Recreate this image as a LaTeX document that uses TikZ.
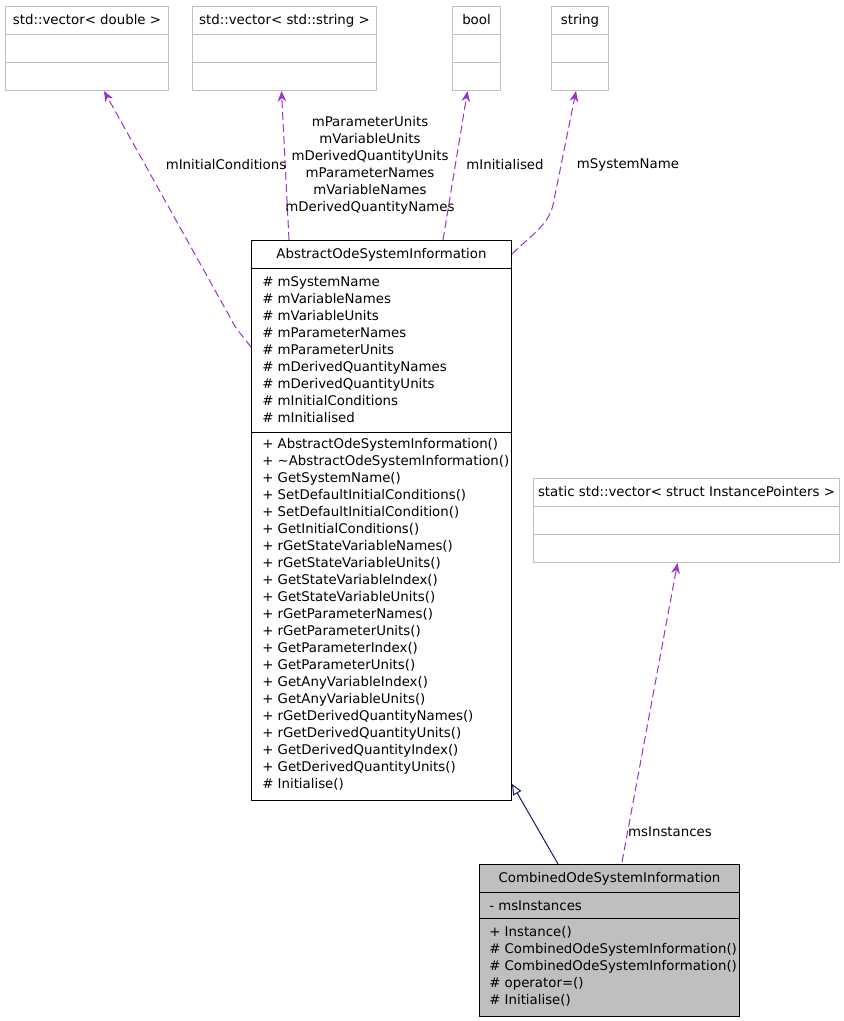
\documentclass[tikz,border=0pt]{standalone}
\usepackage{fontspec}
\setmainfont{DejaVu Sans}
\usetikzlibrary{arrows.meta,calc}
\definecolor{umlpurple}{HTML}{9A32CD}
\definecolor{umlgray}{HTML}{BFBFBF}
\definecolor{umlnavy}{HTML}{191970}
\tikzset{
  every picture/.style={font=\fontsize{10}{12.75}\selectfont, line join=round, >=Stealth},
  classbox/.style={draw=black, line width=0.75pt, rectangle, anchor=north west, inner sep=0pt},
  extbox/.style={draw=umlgray, line width=0.75pt, rectangle, anchor=north west, inner sep=0pt, minimum height=63pt},
  title/.style={inner sep=0pt, text height=7.5pt, text depth=2pt},
  member/.style={anchor=west, inner sep=0pt, text height=7.5pt, text depth=2pt},
  elabel/.style={inner sep=0pt, align=center},
  uses/.style={draw=umlpurple, line width=0.75pt, dash pattern=on 6pt off 3pt,
    -{Stealth[length=8pt, width=6.5pt]}},
  inherit/.style={draw=umlnavy, line width=0.75pt,
    -{Triangle[open, length=8pt, width=7pt, fill=white]}},
}

\begin{document}
\begin{tikzpicture}[x=0.75pt,y=-0.75pt]
\useasboundingbox (0,0) rectangle (843,1021);

% used classes along the top
\foreach \n/\x/\w/\txt in {dbl/5/163/{std::vector< double >}, vstr/192/184/{std::vector< std::string >},
                          bool/452/48/{bool}, str/551/57/{string}}{
  \node[extbox, minimum width={0.75pt*\w}] (\n) at (\x,6) {};
  \node[title] (\n-t) at ($(\n.north)+(0,15)$) {\txt};
  \draw[umlgray, line width=0.75pt] ($(\n.north west)+(0,28)$) -- ($(\n.north east)+(0,28)$);
  \draw[umlgray, line width=0.75pt] ($(\n.north west)+(0,56)$) -- ($(\n.north east)+(0,56)$);
}
\node[extbox, minimum width=229.5pt] (inst) at (533,478) {};
\node[title] (inst-t) at ($(inst.north)+(0,15)$) {static std::vector< struct InstancePointers >};
\draw[umlgray, line width=0.75pt] ($(inst.north west)+(0,28)$) -- ($(inst.north east)+(0,28)$);
\draw[umlgray, line width=0.75pt] ($(inst.north west)+(0,56)$) -- ($(inst.north east)+(0,56)$);

% AbstractOdeSystemInformation
\node[classbox, minimum width=195pt, minimum height=420pt] (abs) at (251,240) {};
\node[title] (abs-t) at ($(abs.north)+(0,15)$) {AbstractOdeSystemInformation};
\draw[line width=0.75pt] ($(abs.north west)+(0,28)$) -- ($(abs.north east)+(0,28)$);
\draw[line width=0.75pt] ($(abs.north west)+(0,192)$) -- ($(abs.north east)+(0,192)$);
\foreach \m [count=\i] in {mSystemName, mVariableNames, mVariableUnits, mParameterNames,
    mParameterUnits, mDerivedQuantityNames, mDerivedQuantityUnits, mInitialConditions, mInitialised}{
  \node[member] (abs-a\i) at ($(abs.north west)+(11,{26+17*\i})$) {\# \m};
}
\foreach \m [count=\i] in {+ AbstractOdeSystemInformation(), + \textasciitilde AbstractOdeSystemInformation(),
    + GetSystemName(), + SetDefaultInitialConditions(), + SetDefaultInitialCondition(),
    + GetInitialConditions(), + rGetStateVariableNames(), + rGetStateVariableUnits(),
    + GetStateVariableIndex(), + GetStateVariableUnits(), + rGetParameterNames(),
    + rGetParameterUnits(), + GetParameterIndex(), + GetParameterUnits(),
    + GetAnyVariableIndex(), + GetAnyVariableUnits(), + rGetDerivedQuantityNames(),
    + rGetDerivedQuantityUnits(), + GetDerivedQuantityIndex(), + GetDerivedQuantityUnits(),
    \# Initialise()}{
  \node[member] (abs-m\i) at ($(abs.north west)+(11,{188+17*\i})$) {\m};
}

% CombinedOdeSystemInformation
\node[classbox, fill=umlgray, minimum width=195pt, minimum height=114pt] (comb) at (479,864) {};
\node[title] (comb-t) at ($(comb.north)+(0,15)$) {CombinedOdeSystemInformation};
\draw[line width=0.75pt] ($(comb.north west)+(0,28)$) -- ($(comb.north east)+(0,28)$);
\draw[line width=0.75pt] ($(comb.north west)+(0,54)$) -- ($(comb.north east)+(0,54)$);
\node[member] (comb-a1) at ($(comb.north west)+(10,43)$) {- msInstances};
\foreach \m [count=\i] in {+ Instance(), \# CombinedOdeSystemInformation(),
    \# CombinedOdeSystemInformation(), \# operator=(), \# Initialise()}{
  \node[member] (comb-m\i) at ($(comb.north west)+(10,{52+17*\i})$) {\m};
}

% member usage
\draw[uses] ($(abs.north west)+(0,107)$) -- (236,328) -- ($(dbl.south)+(17,0)$);
\draw[uses] ($(abs.north west)+(38,0)$) -- ($(vstr.south)+(-3,0)$);
\draw[uses] ($(abs.north west)+(192,0)$) -- ($(bool.south)+(-9,0)$);
\draw[uses] ($(abs.north east)+(0,14)$) .. controls (530,236) and (548,226) .. (553,205) -- ($(str.south)+(-4,0)$);
\draw[uses] ($(comb.north west)+(143,-2)$) -- ($(inst.south)+(-9,0)$);
% inheritance
\draw[inherit] ($(comb.north west)+(79,0)$) -- ($(abs.south east)+(0,-17)$);

\node[elabel] (l-dbl) at (226,165) {mInitialConditions};
\node[elabel] (l-vstr) at (370,165) {mParameterUnits\\mVariableUnits\\mDerivedQuantityUnits\\mParameterNames\\mVariableNames\\mDerivedQuantityNames};
\node[elabel] (l-bool) at (505,165) {mInitialised};
\node[elabel] (l-str) at (628,165) {mSystemName};
\node[elabel] (l-inst) at (670,832) {msInstances};
\end{tikzpicture}
\end{document}
